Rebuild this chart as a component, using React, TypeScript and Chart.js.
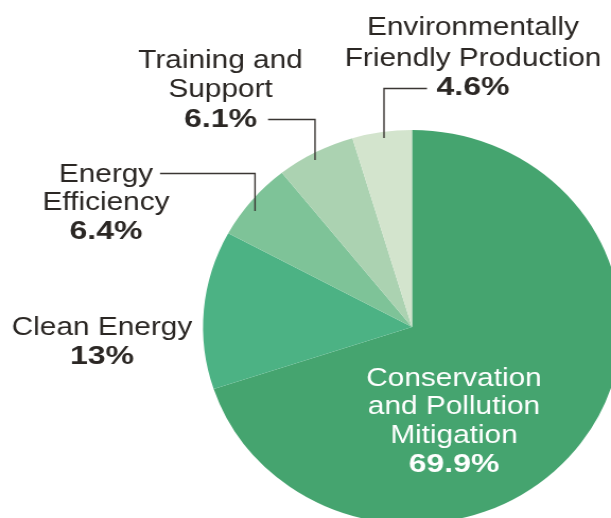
import React, { useEffect, useRef } from "react";
import { Chart, registerables } from "chart.js";

Chart.register(...registerables);

// ---- data ----
const categories = [
  "Conservation and Pollution Mitigation",
  "Clean Energy",
  "Energy Efficiency",
  "Training and Support",
  "Environmentally Friendly Production",
];
const shares = [69.9, 13, 6.4, 6.1, 4.6];
const percentLabels = ["69.9%", "13%", "6.4%", "6.1%", "4.6%"];
const nameLines = [
  ["Conservation", "and Pollution", "Mitigation"],
  ["Clean Energy"],
  ["Energy", "Efficiency"],
  ["Training and", "Support"],
  ["Environmentally", "Friendly Production"],
];
const sliceColors = ["#45a46f", "#4cb284", "#7ec398", "#abd2b1", "#d3e4cd"];

// ---- layout (image pixels) ----
const SX = 611 / 576; // horizontal stretch of the whole picture
const CW = 600;
const CH = 545;
const CX = 412;
const CY = 327;
const R = 197;
const DARK = "#2b2724";

const labelLayout = [
  { cx: 454, baselines: [386, 414, 443, 472], color: "#ffffff" },
  { cx: 102, baselines: [335, 364], color: DARK },
  { cx: 106, baselines: [182, 210, 239], color: DARK },
  { cx: 220.5, baselines: [68, 97, 126.5], color: DARK },
  { cx: 473, baselines: [35, 66, 95], color: DARK },
];
const leaders: (number[][] | null)[] = [
  null,
  null,
  [[160, 173.5], [255, 173.5], [255, 211]],
  [[268, 119.5], [315, 119.5], [315, 160]],
  [[427, 88.5], [384, 88.5], [384, 138]],
];

const labelPlugin = {
  id: "sliceLabels",
  afterDraw(chart: any) {
    const ctx = chart.ctx as CanvasRenderingContext2D;
    ctx.save();
    leaders.forEach((pts) => {
      if (!pts) return;
      ctx.beginPath();
      ctx.strokeStyle = "#3a3633";
      ctx.lineWidth = 1.4;
      pts.forEach((p, i) => {
        const x = p[0] / SX;
        if (i === 0) ctx.moveTo(x, p[1]);
        else ctx.lineTo(x, p[1]);
      });
      ctx.stroke();
    });
    labelLayout.forEach((lay, i) => {
      const lines = nameLines[i];
      ctx.fillStyle = lay.color;
      ctx.textAlign = "center";
      ctx.textBaseline = "alphabetic";
      lines.forEach((t, j) => {
        ctx.save();
        ctx.translate(lay.cx / SX, lay.baselines[j]);
        ctx.scale(1.08, 1);
        ctx.font = "26px 'Liberation Sans', Arial, sans-serif";
        ctx.fillText(t, 0, 0);
        ctx.restore();
      });
      ctx.save();
      ctx.translate(lay.cx / SX, lay.baselines[lines.length]);
      ctx.scale(1.16, 1);
      ctx.font = "bold 26px 'Liberation Sans', Arial, sans-serif";
      ctx.fillText(percentLabels[i], 0, 0);
      ctx.restore();
    });
    ctx.restore();
  },
};

export default function App() {
  const ref = useRef<HTMLCanvasElement | null>(null);
  useEffect(() => {
    if (!ref.current) return;
    const padLeft = CX / SX - R;
    const padRight = CW - (CX / SX + R);
    const padTop = CY - R;
    const padBottom = CH - (CY + R);
    const chart = new Chart(ref.current, {
      type: "pie",
      data: {
        labels: categories,
        datasets: [
          {
            data: shares,
            backgroundColor: sliceColors,
            borderWidth: 0,
          },
        ],
      },
      options: {
        animation: false,
        responsive: true,
        maintainAspectRatio: false,
        events: [],
        layout: {
          padding: { left: padLeft, right: padRight, top: padTop, bottom: padBottom },
        },
        plugins: {
          legend: { display: false },
          tooltip: { enabled: false },
        },
      },
      plugins: [labelPlugin],
    });
    return () => chart.destroy();
  }, []);

  return (
    <div
      style={{
        position: "fixed",
        left: 0,
        top: 0,
        width: 611,
        height: 518,
        overflow: "hidden",
        background: "#ffffff",
      }}
    >
      <div
        style={{
          position: "absolute",
          left: 0,
          top: 0,
          width: CW,
          height: CH,
          transform: `scaleX(${SX})`,
          transformOrigin: "0 0",
        }}
      >
        <canvas ref={ref} />
      </div>
    </div>
  );
}
